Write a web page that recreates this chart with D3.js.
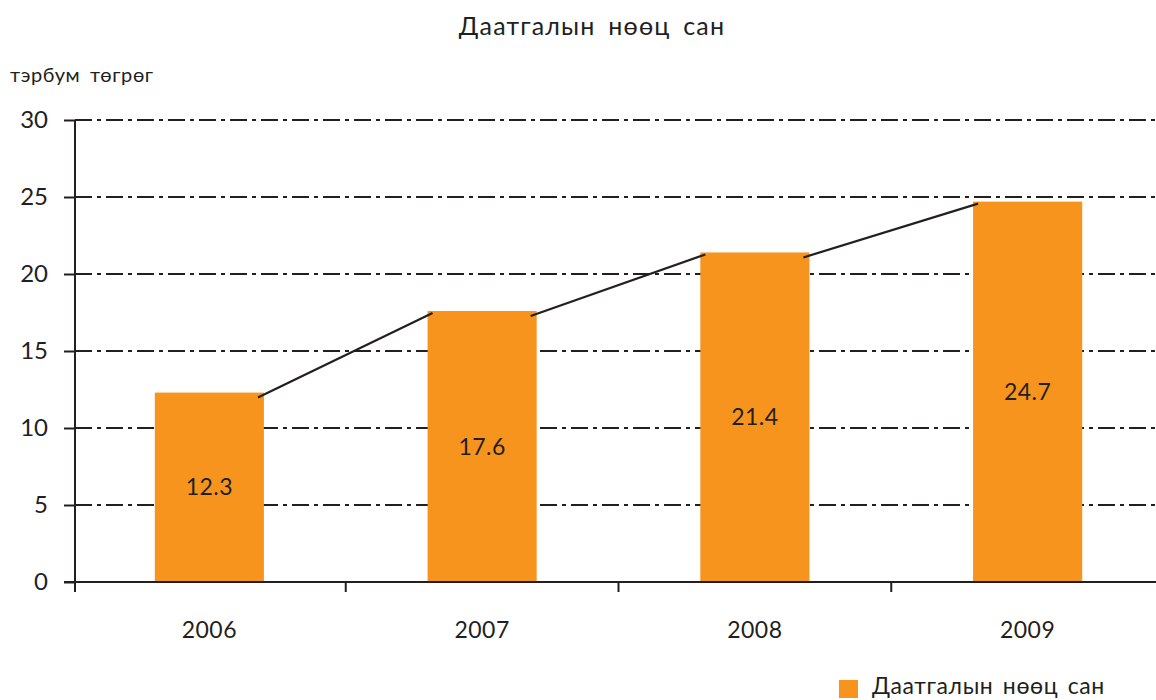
<!DOCTYPE html>
<html>
<head>
<meta charset="utf-8">
<script src="https://cdn.jsdelivr.net/npm/d3@7"></script>
<style>
  body { margin: 0; background: #fff; }
  svg text { font-family: "Lato", "DejaVu Sans", sans-serif; fill: #231f20; }
</style>
</head>
<body>
<div id="chart"></div>
<script>
const years = ["2006", "2007", "2008", "2009"];
const reserve = [12.3, 17.6, 21.4, 24.7];
const yTicks = [0, 5, 10, 15, 20, 25, 30];
const title = "Даатгалын нөөц сан";
const unit = "тэрбум төгрөг";

const width = 1156, height = 700;
const svg = d3.select("#chart").append("svg")
  .attr("width", width)
  .attr("height", height);

const x = d3.scaleBand()
  .domain(years)
  .range([73, 1164]);
const y = d3.scaleLinear()
  .domain([0, 30])
  .range([582, 120]);

const barW = x.bandwidth() * 0.4;
const ink = "#231f20";

// title + unit
svg.append("text")
  .attr("x", 592).attr("y", 35)
  .attr("text-anchor", "middle")
  .style("font-size", "25px")
  .style("letter-spacing", "1.2px")
  .style("word-spacing", "5px")
  .text(title);
svg.append("text")
  .attr("x", 10).attr("y", 82)
  .style("font-size", "20px")
  .style("letter-spacing", "0.6px")
  .style("word-spacing", "4px")
  .text(unit);

// dash-dot grid
svg.append("g").selectAll("line")
  .data(yTicks.filter(d => d > 0))
  .join("line")
  .attr("x1", 75).attr("x2", width)
  .attr("y1", d => y(d)).attr("y2", d => y(d))
  .attr("stroke", ink)
  .attr("stroke-width", 2)
  .attr("stroke-dasharray", "17 5 4 5");

// bars
svg.append("g").selectAll("rect")
  .data(reserve)
  .join("rect")
  .attr("x", (d, i) => x(years[i]) + (x.bandwidth() - barW) / 2)
  .attr("y", d => y(d))
  .attr("width", barW)
  .attr("height", d => y(0) - y(d))
  .attr("fill", "#f7941d");

// connector lines between bar tops
const links = d3.pairs(reserve.map((v, i) => ({ v, i })));
svg.append("g").selectAll("line")
  .data(links)
  .join("line")
  .attr("x1", d => x(years[d[0].i]) + (x.bandwidth() + barW) / 2 - 6)
  .attr("y1", d => y(d[0].v) + 5)
  .attr("x2", d => x(years[d[1].i]) + (x.bandwidth() - barW) / 2 + 5)
  .attr("y2", d => y(d[1].v) + 2)
  .attr("stroke", ink)
  .attr("stroke-width", 2.2);

// value labels in bar middle
svg.append("g").selectAll("text")
  .data(reserve)
  .join("text")
  .attr("x", (d, i) => x(years[i]) + x.bandwidth() / 2)
  .attr("y", d => (y(d) + y(0)) / 2)
  .attr("dy", "0.35em")
  .attr("text-anchor", "middle")
  .style("font-size", "23px")
  .style("letter-spacing", "0.5px")
  .text(d => d.toFixed(1));

// y axis
const yAxis = svg.append("g")
  .attr("transform", "translate(75,0)")
  .call(d3.axisLeft(y).tickValues(yTicks).tickSize(11).tickPadding(16));
yAxis.select(".domain").remove();
yAxis.selectAll("line").attr("stroke", ink).attr("stroke-width", 2);
yAxis.selectAll("text").style("font-size", "24px").attr("fill", ink);
svg.append("line")
  .attr("x1", 75).attr("x2", 75)
  .attr("y1", y(30)).attr("y2", 592)
  .attr("stroke", ink).attr("stroke-width", 2);

// x axis
svg.append("line")
  .attr("x1", 64).attr("x2", width)
  .attr("y1", y(0)).attr("y2", y(0))
  .attr("stroke", ink).attr("stroke-width", 2);
svg.append("g").selectAll("line")
  .data(years.slice(1))
  .join("line")
  .attr("x1", d => x(d)).attr("x2", d => x(d))
  .attr("y1", y(0)).attr("y2", 592)
  .attr("stroke", ink).attr("stroke-width", 2);
svg.append("g").selectAll("text")
  .data(years)
  .join("text")
  .attr("x", d => x(d) + x.bandwidth() / 2)
  .attr("y", 638)
  .attr("text-anchor", "middle")
  .style("font-size", "23px")
  .style("letter-spacing", "0.5px")
  .text(d => d);

// legend
svg.append("rect")
  .attr("x", 839).attr("y", 680)
  .attr("width", 19).attr("height", 18)
  .attr("fill", "#f7941d");
svg.append("text")
  .attr("x", 872).attr("y", 694)
  .style("font-size", "23px")
  .style("letter-spacing", "0.6px")
  .style("word-spacing", "3px")
  .text(title);
</script>
</body>
</html>
